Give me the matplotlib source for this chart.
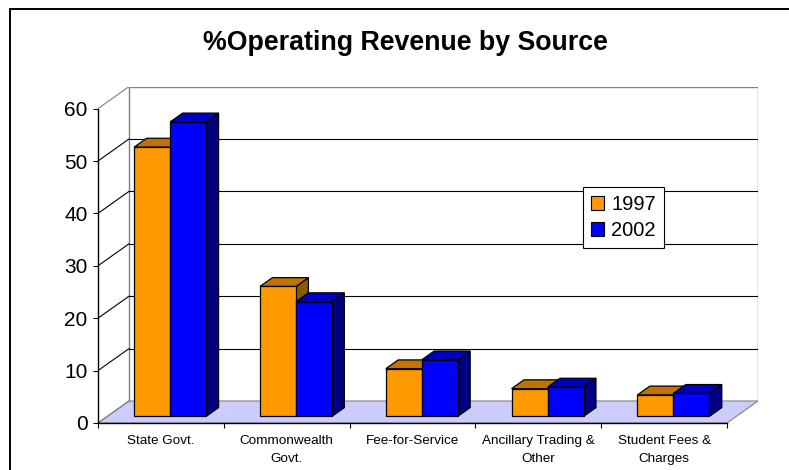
import matplotlib.pyplot as plt
from matplotlib.patches import Polygon, Patch, Rectangle

plt.rcParams['font.family'] = ['Liberation Sans', 'DejaVu Sans']

# revenue share (%) by source
categories = ['State Govt.', 'Commonwealth\nGovt.', 'Fee-for-Service',
              'Ancillary Trading &\nOther', 'Student Fees &\nCharges']
series_names = ['1997', '2002']
pct_1997 = [51.4, 24.8, 9.1, 5.3, 4.1]
pct_2002 = [56.2, 21.9, 10.8, 5.6, 4.4]
yticks = [0, 10, 20, 30, 40, 50, 60]

# colours: front, top, side
orange = ('#ff9900', '#c07300', '#8a5a00')
blue = ('#0000ff', '#0000c0', '#000080')

# oblique depth offset of the back wall, in data units
dx = 0.2464
dy = 4.2
ymax = 60
n = len(categories)

fig = plt.figure(figsize=(7.89, 4.70), dpi=100)
ax = fig.add_axes([98 / 789, 47 / 470, 660 / 789, 336.4 / 470])
ax.set_xlim(0, n + dx)
ax.set_ylim(0, ymax + dy)
ax.patch.set_visible(False)

# floor
ax.add_patch(Polygon([(0, 0), (n, 0), (n + dx, dy), (dx, dy)], closed=True,
                     facecolor='#ccccff', edgecolor='#808080', lw=0.8, zorder=1))

# back wall and side wall outline
ax.plot([dx, dx, n + dx, n + dx], [dy, ymax + dy, ymax + dy, dy],
        color='#808080', lw=1.0, zorder=1)
for v in yticks:
    col = '#808080' if v in (0, ymax) else 'black'
    ax.plot([0, dx], [v, v + dy], color=col, lw=0.8, zorder=1)
    if 0 < v < ymax:
        ax.plot([dx, n + dx], [v + dy, v + dy], color='black', lw=0.8, zorder=1)

# 3-D style columns
bw = 0.286
gap = (1 - 2 * bw) / 2
f0, f1 = 0.3, 0.7
ddx, ddy = (f1 - f0) * dx, (f1 - f0) * dy
z = 3
for i in range(n):
    for k, (vals, cols) in enumerate([(pct_1997, orange), (pct_2002, blue)]):
        x0 = i + f0 * dx + gap + k * bw
        x1 = x0 + bw
        y0 = f0 * dy
        y1 = y0 + vals[i]
        kw = dict(closed=True, edgecolor='black', lw=0.9, zorder=z, joinstyle='miter')
        ax.add_patch(Polygon([(x1, y0), (x1 + ddx, y0 + ddy), (x1 + ddx, y1 + ddy), (x1, y1)],
                             facecolor=cols[2], **kw))
        ax.add_patch(Polygon([(x0, y1), (x1, y1), (x1 + ddx, y1 + ddy), (x0 + ddx, y1 + ddy)],
                             facecolor=cols[1], **kw))
        ax.add_patch(Polygon([(x0, y0), (x1, y0), (x1, y1), (x0, y1)],
                             facecolor=cols[0], **kw))
        z += 1

# axes
for s in ['top', 'right']:
    ax.spines[s].set_visible(False)
ax.spines['left'].set_bounds(0, ymax)
ax.spines['bottom'].set_bounds(0, n)
for s in ['left', 'bottom']:
    ax.spines[s].set_linewidth(1.0)
    ax.spines[s].set_zorder(20)
ax.set_yticks(yticks)
ax.tick_params(axis='y', direction='out', length=3.6, width=0.8, pad=4, labelsize=15)
ax.set_xticks(range(n + 1))
ax.set_xticklabels([])
ax.tick_params(axis='x', which='major', direction='out', length=3.6, width=0.8)
ax.set_xticks([i + 0.5 for i in range(n)], minor=True)
ax.set_xticklabels(categories, minor=True, fontsize=9.7, linespacing=1.65)
ax.tick_params(axis='x', which='minor', length=0, pad=8.5)

handles = [Patch(facecolor=orange[0], edgecolor='black', lw=0.8),
           Patch(facecolor=blue[0], edgecolor='black', lw=0.8)]
leg = fig.legend(handles, series_names, loc='upper left',
                 bbox_to_anchor=(583 / 789, 1 - 187 / 470), bbox_transform=fig.transFigure,
                 borderaxespad=0, fontsize=14.5, fancybox=False, framealpha=1,
                 edgecolor='black', handlelength=0.65, handleheight=0.65,
                 handletextpad=0.35, labelspacing=0.35, borderpad=0.4)
leg.get_frame().set_linewidth(0.8)

fig.text(405 / 789, 1 - 43 / 470, '%Operating Revenue by Source', ha='center', va='center',
         fontsize=19.3, fontweight='bold')

# chart border
fig.patches.append(Rectangle((10 / 789, -0.1), 1.2, 1 - 9 / 470 + 0.1, transform=fig.transFigure,
                             fill=False, edgecolor='black', lw=1.4))

fig.savefig('out.png', dpi=100)
